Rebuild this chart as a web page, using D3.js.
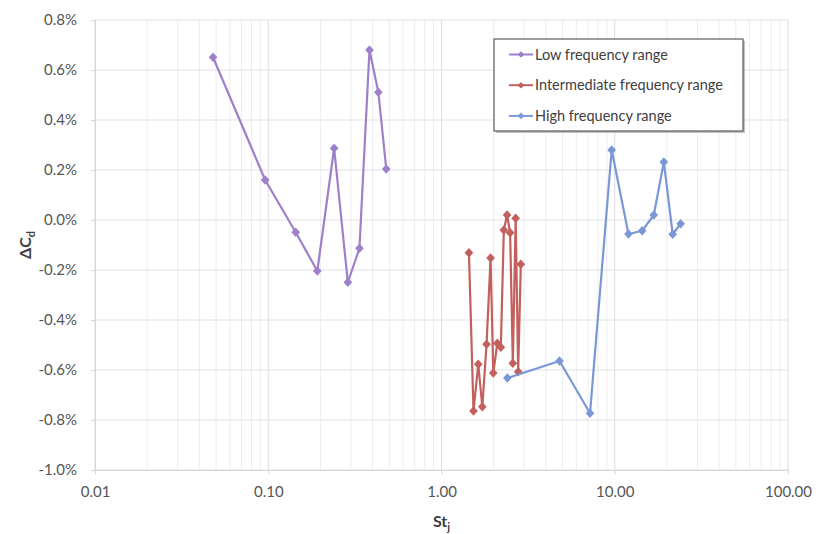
<!DOCTYPE html>
<html>
<head>
<meta charset="utf-8">
<script src="https://cdn.jsdelivr.net/npm/d3@7"></script>
<style>
  html, body { margin: 0; padding: 0; background: #fff; }
  svg { display: block; font-family: Lato, "Open Sans", sans-serif; }
</style>
</head>
<body>
<svg id="chart" width="816" height="534"></svg>
<script>
// Jet Strouhal number St_j vs change in drag coefficient ΔC_d, three frequency ranges
const seriesNames = ["Low frequency range", "Intermediate frequency range", "High frequency range"];
const seriesColors = ["#9d80c9", "#c3605d", "#7b98d6"];

const lowSt  = [0.048, 0.096, 0.144, 0.192, 0.240, 0.288, 0.336, 0.384, 0.432, 0.480];
const lowDCd = [0.651, 0.160, -0.049, -0.204, 0.287, -0.249, -0.113, 0.680, 0.511, 0.204];

const midSt  = [1.44, 1.53, 1.63, 1.72, 1.82, 1.92, 1.99, 2.10, 2.20, 2.29, 2.39, 2.49, 2.58, 2.68, 2.77, 2.87];
const midDCd = [-0.131, -0.764, -0.577, -0.747, -0.497, -0.152, -0.612, -0.493, -0.509, -0.040, 0.020, -0.051, -0.573, 0.007, -0.607, -0.177];

const highSt  = [2.4, 4.8, 7.2, 9.6, 12.0, 14.4, 16.8, 19.2, 21.6, 24.0];
const highDCd = [-0.632, -0.564, -0.773, 0.280, -0.056, -0.043, 0.020, 0.232, -0.057, -0.015];

const xTicks = [0.01, 0.1, 1, 10, 100];
const xTickLabels = ["0.01", "0.10", "1.00", "10.00", "100.00"];
const yTicks = [-1.0, -0.8, -0.6, -0.4, -0.2, 0.0, 0.2, 0.4, 0.6, 0.8];

const series = [
  { name: seriesNames[0], color: seriesColors[0], xs: lowSt,  ys: lowDCd },
  { name: seriesNames[1], color: seriesColors[1], xs: midSt,  ys: midDCd },
  { name: seriesNames[2], color: seriesColors[2], xs: highSt, ys: highDCd }
];

const svg = d3.select("#chart");
const plot = { left: 95, right: 788, top: 20, bottom: 470 };

const x = d3.scaleLog().domain([0.01, 100]).range([plot.left, plot.right]);
const y = d3.scaleLinear().domain([-1.0, 0.8]).range([plot.bottom, plot.top]);

const textColor = "#555555";

// minor vertical grid (2..9 within each decade)
const minorX = [];
for (let d = 0.01; d < 100; d *= 10) {
  for (let k = 2; k <= 9; k++) minorX.push(d * k);
}
svg.append("g").selectAll("line").data(minorX).join("line")
  .attr("x1", d => x(d)).attr("x2", d => x(d))
  .attr("y1", plot.top).attr("y2", plot.bottom)
  .attr("stroke", "#ececf0").attr("stroke-width", 1);

// major vertical grid
svg.append("g").selectAll("line").data(xTicks).join("line")
  .attr("x1", d => x(d)).attr("x2", d => x(d))
  .attr("y1", plot.top).attr("y2", plot.bottom)
  .attr("stroke", "#dcdde2").attr("stroke-width", 1);

// horizontal grid
svg.append("g").selectAll("line").data(yTicks).join("line")
  .attr("x1", plot.left).attr("x2", plot.right)
  .attr("y1", d => y(d)).attr("y2", d => y(d))
  .attr("stroke", "#e2e2e6").attr("stroke-width", 1);

// x axis
const xAxis = d3.axisBottom(x)
  .tickValues(xTicks)
  .tickFormat((d, i) => xTickLabels[i])
  .tickSize(4).tickPadding(12);
const gx = svg.append("g").attr("transform", `translate(0,${plot.bottom})`).call(xAxis);
gx.select(".domain").attr("stroke", "#d6d6da");
gx.selectAll(".tick line").attr("stroke", "#d6d6da");
gx.selectAll("text").attr("fill", textColor).style("font-size", "15px")
  .style("font-family", "Lato, 'Open Sans', sans-serif");

// y axis
const yAxis = d3.axisLeft(y)
  .tickValues(yTicks)
  .tickFormat(d => d.toFixed(1) + "%")
  .tickSize(4).tickPadding(14);
const gy = svg.append("g").attr("transform", `translate(${plot.left},0)`).call(yAxis);
gy.select(".domain").attr("stroke", "#d6d6da");
gy.selectAll(".tick line").attr("stroke", "#d6d6da");
gy.selectAll("text").attr("fill", textColor).style("font-size", "15px")
  .style("font-family", "Lato, 'Open Sans', sans-serif");

// series lines and diamond markers (rotated squares)
const marker = d3.symbol().type(d3.symbolSquare).size(46);
const line = d3.line().x(d => x(d[0])).y(d => y(d[1]));

series.forEach(s => {
  const pts = s.xs.map((v, i) => [v, s.ys[i]]);
  const g = svg.append("g");
  g.append("path").datum(pts)
    .attr("d", line)
    .attr("fill", "none")
    .attr("stroke", s.color)
    .attr("stroke-width", 2.2)
    .attr("stroke-linejoin", "round");
  g.selectAll("path.pt").data(pts).join("path")
    .attr("class", "pt")
    .attr("d", marker)
    .attr("transform", d => `translate(${x(d[0])},${y(d[1])}) scale(0.9,1) rotate(45)`)
    .attr("fill", s.color);
});

// legend
const lg = svg.append("g").attr("transform", "translate(494,39)");
lg.append("rect").attr("x", 2).attr("y", 2).attr("width", 249).attr("height", 92)
  .attr("fill", "#9a9a9a").attr("opacity", 0.6);
lg.append("rect").attr("x", 0).attr("y", 0).attr("width", 249).attr("height", 92)
  .attr("fill", "#fff").attr("stroke", "#5b5b5b").attr("stroke-width", 1.2);
series.forEach((s, i) => {
  const row = lg.append("g").attr("transform", `translate(0,${15.5 + i * 30.7})`);
  row.append("line").attr("x1", 15).attr("x2", 39).attr("y1", 0).attr("y2", 0)
    .attr("stroke", s.color).attr("stroke-width", 2);
  row.append("path").attr("d", d3.symbol().type(d3.symbolSquare).size(22))
    .attr("transform", "translate(27,0) rotate(45)").attr("fill", s.color);
  row.append("text").attr("x", 41).attr("y", 0).attr("dy", "0.35em")
    .attr("fill", "#404040").style("font-size", "14.5px")
    .text(s.name);
});

// x axis title: St_j
const xt = svg.append("text").attr("x", (plot.left + plot.right) / 2).attr("y", 527)
  .attr("text-anchor", "middle").attr("fill", "#404040")
  .style("font-size", "16px").style("font-weight", "bold");
xt.append("tspan").text("St");
xt.append("tspan").attr("dy", 4).style("font-size", "11px").text("j");

// y axis title: ΔC_d
const yt = svg.append("text")
  .attr("transform", `translate(31,${(plot.top + plot.bottom) / 2}) rotate(-90)`)
  .attr("text-anchor", "middle").attr("fill", "#404040")
  .style("font-size", "16px").style("font-weight", "bold");
yt.append("tspan").text("ΔC");
yt.append("tspan").attr("dy", 4).style("font-size", "11px").text("d");
</script>
</body>
</html>
